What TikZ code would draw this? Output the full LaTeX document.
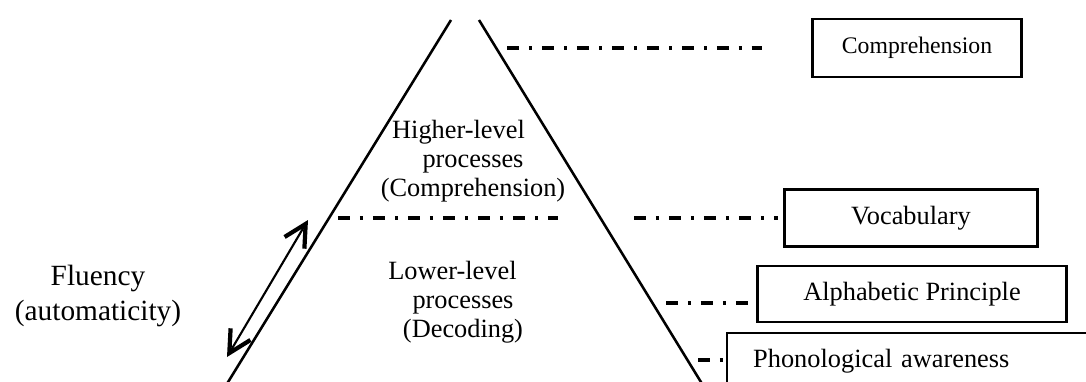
\documentclass[tikz,border=0pt]{standalone}
\usepackage{fontspec}
\setmainfont{Liberation Serif}
\usetikzlibrary{arrows.meta, positioning, calc}

\begin{document}
\begin{tikzpicture}[x=0.02cm,y=-0.02cm,
    side/.style={line width=1.45pt},
    dashdot/.style={line width=2pt, dash pattern=on 6.8pt off 5.7pt on 1.7pt off 5.7pt},
    skillbox/.style={draw, line width=1.4pt, inner sep=0pt, font=\fontsize{15}{18}\selectfont},
    level/.style={align=center, font=\fontsize{15}{16.5}\selectfont},
    barb/.style={line width=1.2pt,
        {Straight Barb[length=0.44cm, width=0.46cm, line width=2.4pt]}-{Straight Barb[length=0.44cm, width=0.46cm, line width=2.4pt]}}]

    \useasboundingbox (0,0) rectangle (1086,382);
    \clip (0,0) rectangle (1086,382);

    %--------------------------------
    % 三角形两边
    %--------------------------------
    \coordinate (apexL) at (451,20);
    \coordinate (baseL) at (225,387);
    \coordinate (apexR) at (479,20);
    \coordinate (baseR) at (704,387);
    \draw[side] (apexL) -- (baseL);
    \draw[side] (apexR) -- (baseR);

    %--------------------------------
    % 层次说明
    %--------------------------------
    \node[level] (higher) at (473,161) {Higher-level\kern1.1em\\processes\\(Comprehension)};
    \node[level] (lower) at (463,302) {Lower-level\kern0.8em\\processes\\(Decoding)};

    \node[align=center, font=\fontsize{16.7}{19.5}\selectfont] (fluency) at (98,296)
    {Fluency\\(automaticity)};

    % 双向箭头
    \coordinate (fluLow) at (227,357);
    \coordinate (fluHigh) at (308,220);
    \draw[barb] (fluLow) -- (fluHigh);

    %--------------------------------
    % 右侧方框
    %--------------------------------
    \node[skillbox, minimum width=4.18cm, minimum height=1.16cm,
        font=\fontsize{13.5}{16}\selectfont] (comp) at (917,48) {Comprehension};
    \node[skillbox, minimum width=5.06cm, minimum height=1.14cm] (vocab) at (911,218) {Vocabulary};
    \node[skillbox, minimum width=6.18cm, minimum height=1.12cm] (alpha) at (912,294) {Alphabetic Principle};
    \node[skillbox, anchor=north west, minimum height=1.1cm, text width=6.6cm,
        align=left, inner xsep=0.52cm] (phono) at (726,332) {Phonological awareness};

    %--------------------------------
    % 点划线
    %--------------------------------
    \foreach \name/\xa/\xb/\yy in {
        top/507/762/48, inner/338/558/218, vocab/634/778/218,
        alpha/666/748/303, phono/698/725/360}{
        \coordinate (\name A) at (\xa,\yy);
        \coordinate (\name B) at (\xb,\yy);
        \draw[dashdot] (\name A) -- (\name B);
    }

\end{tikzpicture}
\end{document}
